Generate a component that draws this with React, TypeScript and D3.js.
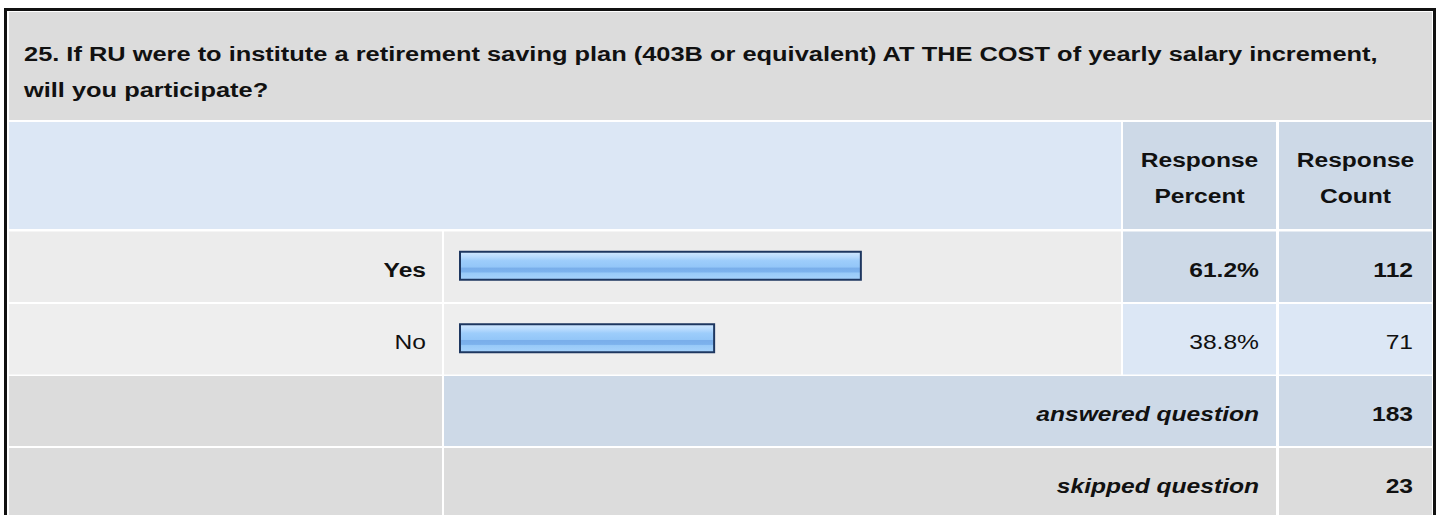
import React from "react";
import * as d3 from "d3";

const titleLines = [
  "25. If RU were to institute a retirement saving plan (403B or equivalent) AT THE COST of yearly salary increment,",
  "will you participate?",
];
const headerPercent = ["Response", "Percent"];
const headerCount = ["Response", "Count"];
const answers = ["Yes", "No"];
const percents = [61.2, 38.8];
const counts = [112, 71];
const summaryLabels = ["answered question", "skipped question"];
const summaryCounts = [183, 23];

const W = 1440;
const H = 515;
const FONT = "'Liberation Sans', Arial, Helvetica, sans-serif";
const FS = 20;
const SX = 1.23;
const SX_TITLE = 1.27;

export default function App() {
  const L0 = 9, L1 = 442, B0 = 444, B1 = 1121, P0 = 1123, P1 = 1276, C0 = 1279, C1 = 1432;
  const rowTops = [231.5, 304];
  const rowH = 70.5;
  const sumTops = [376, 448];

  const x = d3.scaleLinear().domain([0, 100]).range([460, 1115]);

  const txt = (
    s: string,
    xx: number,
    yy: number,
    anchor: "start" | "middle" | "end",
    weight: string,
    italic = false,
    key?: string,
    sx = SX
  ) => (
    <text
      key={key}
      transform={`translate(${xx},${yy}) scale(${sx},1)`}
      textAnchor={anchor}
      fontFamily={FONT}
      fontSize={FS}
      fontWeight={weight}
      fontStyle={italic ? "italic" : "normal"}
      fill="#111"
    >
      {s}
    </text>
  );

  const rowColors = [
    { lab: "#ececec", pc: "#cdd9e7" },
    { lab: "#eeeeee", pc: "#dce7f5" },
  ];

  return (
    <svg
      width={W}
      height={H}
      style={{ position: "absolute", left: 0, top: 0, display: "block" }}
    >
      <defs>
        <linearGradient id="barGrad" x1="0" y1="0" x2="0" y2="1">
          <stop offset="0%" stopColor="#d2e9ff" />
          <stop offset="18%" stopColor="#b8dbfe" />
          <stop offset="32%" stopColor="#9dcdfb" />
          <stop offset="55%" stopColor="#93c6f8" />
          <stop offset="58%" stopColor="#79aeea" />
          <stop offset="72%" stopColor="#7cb2ed" />
          <stop offset="76%" stopColor="#98caf8" />
          <stop offset="100%" stopColor="#a6d2fb" />
        </linearGradient>
      </defs>
      <rect x={0} y={0} width={W} height={H} fill="#ffffff" />
      {/* outer border */}
      <rect x={5.5} y={9.5} width={1429} height={H} fill="none" stroke="#111" strokeWidth={3} />

      {/* title */}
      <rect x={L0} y={12} width={C1 - L0} height={108} fill="#dcdcdc" />
      {titleLines.map((t, i) => txt(t, 24, 61 + i * 36, "start", "bold", false, "t" + i, SX_TITLE))}

      {/* header */}
      <rect x={L0} y={122} width={B1 - L0} height={107} fill="#dce7f5" />
      <rect x={P0} y={122} width={P1 - P0} height={107} fill="#cdd9e7" />
      <rect x={C0} y={122} width={C1 - C0} height={107} fill="#cdd9e7" />
      {headerPercent.map((t, i) => txt(t, (P0 + P1) / 2, 167 + i * 36, "middle", "bold", false, "hp" + i))}
      {headerCount.map((t, i) => txt(t, (C0 + C1) / 2, 167 + i * 36, "middle", "bold", false, "hc" + i))}

      {/* answer rows */}
      {answers.map((a, i) => {
        const top = rowTops[i];
        const cy = top + rowH / 2;
        const bold = i === 0 ? "bold" : "normal";
        return (
          <g key={"r" + i}>
            <rect x={L0} y={top} width={L1 - L0} height={rowH} fill={rowColors[i].lab} />
            <rect x={B0} y={top} width={B1 - B0} height={rowH} fill={rowColors[i].lab} />
            <rect x={P0} y={top} width={P1 - P0} height={rowH} fill={rowColors[i].pc} />
            <rect x={C0} y={top} width={C1 - C0} height={rowH} fill={rowColors[i].pc} />
            <rect
              x={x(0)}
              y={cy - 15}
              width={x(percents[i]) - x(0)}
              height={28}
              fill="url(#barGrad)"
              stroke="#1e3760"
              strokeWidth={2}
            />
            {txt(a, L1 - 16, cy + 10, "end", bold)}
            {txt(percents[i].toFixed(1) + "%", P1 - 17, cy + 10, "end", bold)}
            {txt(String(counts[i]), C1 - 19, cy + 10, "end", bold)}
          </g>
        );
      })}

      {/* summary rows */}
      {summaryLabels.map((s, i) => {
        const top = sumTops[i];
        const cy = top + 35;
        const mid = i === 0 ? "#cdd9e7" : "#dcdcdc";
        return (
          <g key={"s" + i}>
            <rect x={L0} y={top} width={L1 - L0} height={i === 0 ? 70 : H} fill="#dcdcdc" />
            <rect x={B0} y={top} width={P1 - B0} height={i === 0 ? 70 : H} fill={mid} />
            <rect x={C0} y={top} width={C1 - C0} height={i === 0 ? 70 : H} fill={mid} />
            {txt(s, P1 - 17, cy + 10, "end", "bold", true)}
            {txt(String(summaryCounts[i]), C1 - 19, cy + 10, "end", "bold")}
          </g>
        );
      })}
    </svg>
  );
}
